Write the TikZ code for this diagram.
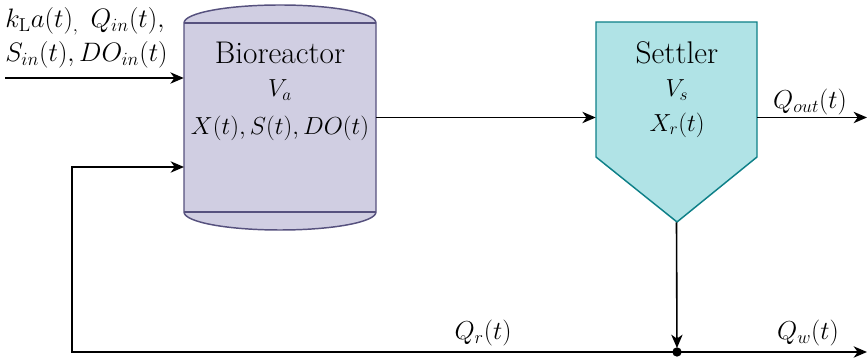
\RequirePackage{fix-cm}
\documentclass[tikz,border=0pt]{standalone}
\usepackage{amsmath}
\usepackage{fontspec}
\usetikzlibrary{calc,arrows.meta}

\definecolor{bioFill}{HTML}{D0CEE2}
\definecolor{bioLine}{HTML}{56517E}
\definecolor{setFill}{HTML}{B0E3E6}
\definecolor{setLine}{HTML}{0E8088}

\tikzset{
  flow/.style={-{Stealth[length=10pt,width=8.5pt,inset=3pt]}, line width=1.2pt},
  reactor/.style={fill=bioFill, draw=bioLine, line width=1.1pt},
  settlerbox/.style={fill=setFill, draw=setLine, line width=1.1pt},
  anchorbox/.style={inner sep=0pt},
  bigtext/.style={font=\rmfamily\fontsize{23.5}{28}\selectfont},
  mathtext/.style={font=\fontsize{19.5}{26}\selectfont},
  statetext/.style={font=\fontsize{18.5}{26}\selectfont},
}

\begin{document}
\begin{tikzpicture}[x=0.75pt,y=-0.75pt]
      \useasboundingbox (0,0) rectangle (868,359);
      \draw[reactor] (184,23) -- (184,212) .. controls (184,222) and (227,230) .. (280,230) .. controls (333,230) and (376,222) .. (376,212) -- (376,23) .. controls (376,13) and (333,5) .. (280,5) .. controls (227,5) and (184,13) .. (184,23) -- cycle;
      \draw[draw=bioLine, line width=1.1pt] (184,23) -- (376,23) (184,212) -- (376,212);
      \draw[settlerbox] (596,22) -- (757,22) -- (757,157) -- (677,222) -- (596,157) -- cycle;
      \node[anchorbox, minimum width=144pt, minimum height=141.75pt] (bio) at (280,117.5) {};
      \node[anchorbox, minimum width=120.75pt, minimum height=150pt] (set) at (676.5,122) {};
      \node[bigtext] (biotitle) at (280,53) {Bioreactor};
      \node[statetext] (Va) at (280,90) {$V_a$};
      \node[statetext] (biostate) at (280,128) {$X(t), S(t), DO(t)$};
      \node[bigtext] (settitle) at (677,53) {Settler};
      \node[statetext] (Vs) at (677,90) {$V_s$};
      \node[statetext] (setstate) at (677,125) {$X_r(t)$};
      \coordinate (feed) at (5,78);
      \coordinate (recin) at (184,167);
      \coordinate (corner) at (72,352);
      \coordinate (junc) at (677,352);
      \coordinate (outQ) at (867,117.5);
      \coordinate (outW) at (867,352);
      \draw[flow] (feed) -- (feed -| bio.west);
      \draw[flow] (bio.east) -- (bio.east -| set.west);
      \draw[flow] (bio.east -| set.east) -- (outQ);
      \draw[flow, shorten >=3pt] (set.south) -- (junc);
      \draw[flow] (junc) -- (outW);
      \draw[flow] (junc) -- (corner) |- (recin);
      \fill (junc) circle (3.5pt);
      \node[mathtext, font=\fontsize{20}{26}\selectfont, anchor=west, align=left, inner sep=0pt] (feedlab) at (5,38) {$k_{\mathrm{L}}a(t)_{,}\;\, Q_{in}(t),$\\$S_{in}(t), DO_{in}(t)$};
      \node[mathtext] (Qout) at (810,102) {$Q_{out}(t)$};
      \node[mathtext] (Qr) at (483,333) {$Q_r(t)$};
      \node[mathtext] (Qw) at (808,333) {$Q_w(t)$};
    \end{tikzpicture}
\end{document}
